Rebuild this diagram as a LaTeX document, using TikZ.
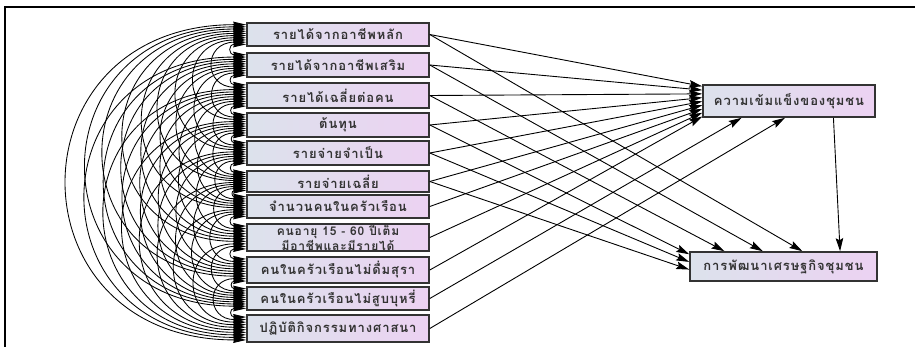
\documentclass[tikz,border=0pt]{standalone}
\usepackage{fontspec}
\newfontfamily\thai[Script=Thai,LetterSpace=7]{Loma}
\usetikzlibrary{arrows.meta,calc}
\definecolor{boxl}{RGB}{220,226,236}
\definecolor{boxr}{RGB}{236,210,242}
\begin{document}
\begin{tikzpicture}[x=1pt,y=-1pt,
  vbox/.style={draw=black!80, line width=1.6pt, left color=boxl, right color=boxr,
    inner sep=0pt, minimum width=182pt, text=black!80, align=center,
    font=\thai\bfseries\fontsize{13}{11}\selectfont},
  cov/.style={line width=0.85pt, {Stealth[length=13pt,width=6pt,inset=1pt]}-{Stealth[length=13pt,width=6pt,inset=1pt]}},
  reg/.style={line width=0.9pt, -{Stealth[length=13pt,width=7.5pt,inset=2pt]}}]
\useasboundingbox (0,0) rectangle (915,347);
\draw[line width=2pt] (4.5,347) -- (4.5,7.5) -- (915,7.5);
% exogenous boxes
\node[vbox, minimum height=23pt] (L1) at (338,34.5) {รายได้จากอาชีพหลัก};
\node[vbox, minimum height=24pt] (L2) at (338,65) {รายได้จากอาชีพเสริม};
\node[vbox, minimum height=25pt] (L3) at (338,95.5) {รายได้เฉลี่ยต่อคน};
\node[vbox, minimum height=24pt] (L4) at (338,125) {ต้นทุน};
\node[vbox, minimum height=24pt] (L5) at (338,153) {รายจ่ายจำเป็น};
\node[vbox, minimum height=21pt] (L6) at (338,181.5) {รายจ่ายเฉลี่ย};
\node[vbox, minimum height=23pt] (L7) at (338,206.5) {จำนวนคนในครัวเรือน};
\node[vbox, minimum height=27pt, font=\thai\bfseries\fontsize{12}{9.5}\selectfont] (L8) at (338,237.5) {คนอายุ 15 - 60 ปีเต็ม\\มีอาชีพและมีรายได้};
\node[vbox, minimum height=26pt] (L9) at (338,270) {คนในครัวเรือนไม่ดื่มสุรา};
\node[vbox, minimum height=23pt] (L10) at (338,298.5) {คนในครัวเรือนไม่สูบบุหรี่};
\node[vbox, minimum height=27pt] (L11) at (338,328.5) {ปฏิบัติกิจกรรมทางศาสนา};
% endogenous boxes
\node[vbox, minimum width=172pt, minimum height=32pt] (A) at (789,101) {ความเข้มแข็งของชุมชน};
\node[vbox, minimum width=187pt, minimum height=29pt] (B) at (783.5,266.5) {การพัฒนาเศรษฐกิจชุมชน};
% covariances
\foreach \i in {1,...,10}{
  \pgfmathtruncatemacro\ip{\i+1}
  \foreach \j in {\ip,...,11}{
    \pgfmathsetmacro\fa{0.1+0.8*((\i-1)+(11-\j))/9}
    \pgfmathsetmacro\fb{0.1+0.8*(\j-1-\i)/9}
    \coordinate (s) at ($(L\i.north west)!\fa!(L\i.south west)$);
    \coordinate (e) at ($(L\j.north west)!\fb!(L\j.south west)$);
    \draw[cov] let \p1=(s), \p2=(e), \n1={(8+0.54*abs(\y2-\y1))/0.75} in
      (s) .. controls ($(s)+(-\n1,0)$) and ($(e)+(-\n1,0)$) .. (e);
  }
}
% regressions to A (left side)
\foreach \i in {1,...,9}{
  \pgfmathsetmacro\f{(2+(\i-1)*3.6)/32}
  \draw[reg] (L\i.east) -- ($(A.north west)!\f!(A.south west)$);
}
\draw[reg] (L10.east) -- ($(A.south west)!0.227!(A.south east)$);
\draw[reg] (L11.east) -- ($(A.south west)!0.477!(A.south east)$);
% regressions to B
\draw[reg] (L1.east) -- ($(B.north west)!0.6!(B.north east)$);
\draw[reg] (L2.east) -- ($(B.north west)!0.39!(B.north east)$);
\draw[reg] (L3.east) -- ($(B.north west)!0.187!(B.north east)$);
\draw[reg] (L4.east) -- ($(B.north west)!0.1!(B.south west)$);
\draw[reg] (L5.east) -- ($(B.north west)!0.35!(B.south west)$);
\draw[reg] (L6.east) -- ($(B.north west)!0.6!(B.south west)$);
\draw[reg] ($(A.south west)!0.756!(A.south east)$) -- ($(B.north west)!0.8!(B.north east)$);
\end{tikzpicture}
\end{document}
